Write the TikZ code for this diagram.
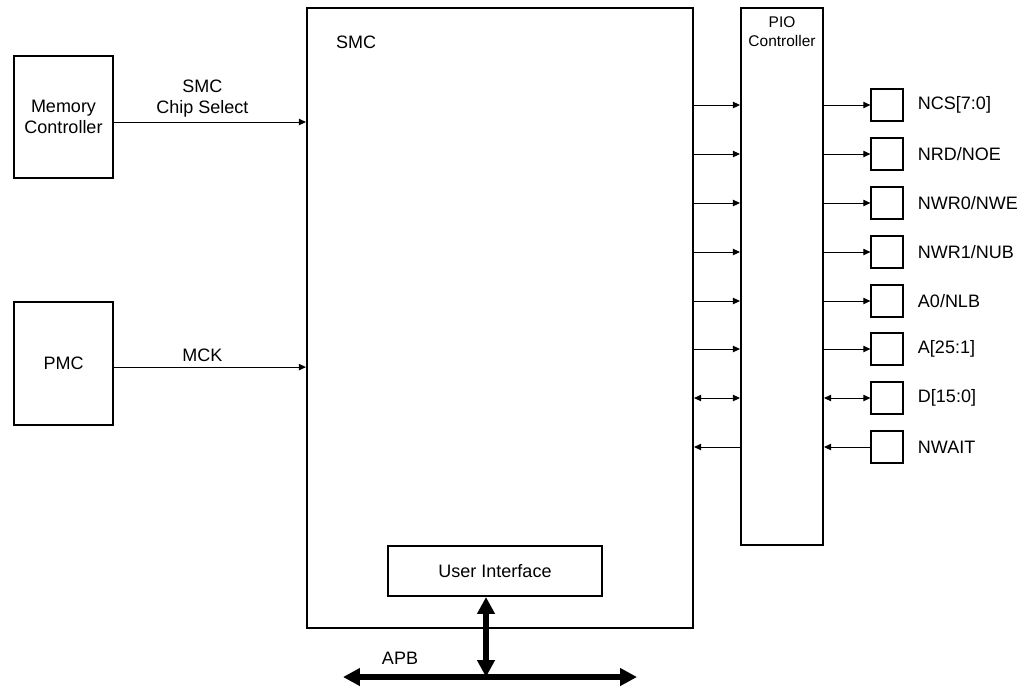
\documentclass[tikz,border=0pt]{standalone}
\usepackage{fontspec}
\setmainfont{Liberation Sans}
\usetikzlibrary{positioning, arrows.meta, calc}

\begin{document}
\begin{tikzpicture}[x=0.025cm, y=-0.025cm, font=\fontsize{12.8}{14.4}\selectfont,
    blk/.style={draw, line width=1.4pt, inner sep=0pt},
    pin/.style={draw, line width=1.4pt, inner sep=0pt,
                minimum width=0.78cm, minimum height=0.8cm},
    sig/.style={line width=0.7pt, -{Triangle[length=5pt, width=4.5pt]}},
    bisig/.style={line width=0.7pt,
                  {Triangle[length=5pt, width=4.5pt]}-{Triangle[length=5pt, width=4.5pt]}},
    bus/.style={line width=3.6pt,
                {Triangle[length=12pt, width=12pt]}-{Triangle[length=12pt, width=12pt]}}]
    \useasboundingbox (0,0) rectangle (1029,687);
    % blocks
    \node[blk, minimum width=2.475cm, minimum height=3.05cm, align=center] (mem) at (63.5,117)
      {Memory\\Controller};
    \node[blk, minimum width=2.475cm, minimum height=3.075cm] (pmc) at (63.5,363.5) {PMC};
    \node[blk, minimum width=9.65cm, minimum height=15.5cm] (smc) at (500,318) {};
    \node (smcl) at (356,42) {SMC};
    \node[blk, minimum width=2.05cm, minimum height=13.425cm] (pio) at (782,276.5) {};
    \node[align=center, font=\fontsize{11}{13.5}\selectfont] (piol) at (782,32)
      {PIO\\Controller};
    \node[blk, minimum width=5.35cm, minimum height=1.25cm] (ui) at (495,571) {User Interface};
    % inputs to SMC
    \coordinate (cs) at ([yshift=-0.125cm]mem.east);
    \draw[sig] (cs) -- (smc.west |- cs)
      node[pos=0.46, above, align=center] {SMC\\Chip Select};
    \coordinate (ck) at ([yshift=-0.09cm]pmc.east);
    \draw[sig] (ck) -- (smc.west |- ck) node[pos=0.46, above] {MCK};
    % pins
    \foreach \i/\yy/\txt in {1/105/{NCS[7:0]}, 2/154/{NRD/NOE}, 3/203/{NWR0/NWE},
        4/252/{NWR1/NUB}, 5/301/{A0/NLB}, 6/349/{A[25:1]}, 7/398/{D[15:0]}, 8/447/{NWAIT}} {
      \node[pin] (p\i) at (887,\yy) {};
      \node[anchor=west] (t\i) at (913,\yy) {\txt};
    }
    \foreach \i in {1,...,6} {
      \draw[sig] (smc.east |- p\i) -- (pio.west |- p\i);
      \draw[sig] (pio.east |- p\i) -- (p\i);
    }
    \draw[bisig] (smc.east |- p7) -- (pio.west |- p7);
    \draw[bisig] (pio.east |- p7) -- (p7);
    \draw[sig] (pio.west |- p8) -- (smc.east |- p8);
    \draw[sig] (p8) -- (pio.east |- p8);
    % APB
    \coordinate (apbl) at (343,677);
    \coordinate (apbr) at (637,677);
    \coordinate (apbj) at (486,677);
    \draw[bus] (apbl) -- (apbr);
    \draw[bus] (apbj |- ui.south) -- (apbj);
    \node (apb) at (400,658) {APB};
\end{tikzpicture}
\end{document}
